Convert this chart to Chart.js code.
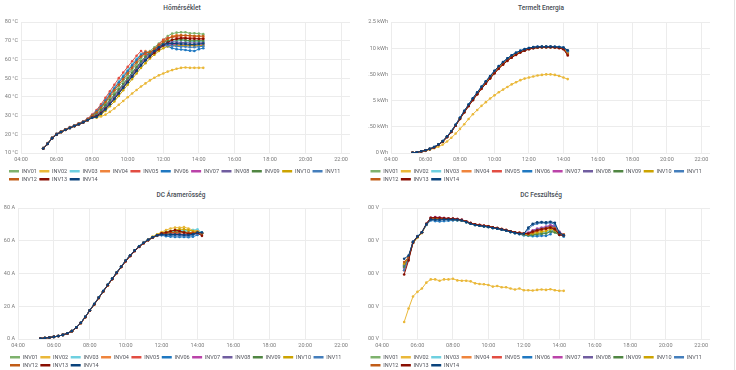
<!DOCTYPE html>
<html>
<head>
<meta charset="utf-8">
<title>Inverterek</title>
<script src="https://cdn.jsdelivr.net/npm/chart.js@4.4.1/dist/chart.umd.min.js"></script>
<style>
  html, body { margin: 0; padding: 0; background: #fff; }
  body { position: relative; width: 736px; height: 370px; overflow: hidden; font-family: Roboto, "Helvetica Neue", Arial, sans-serif; }
  .panel-title { position: absolute; height: 10px; line-height: 10px; text-align: center; font-size: 6.5px; font-weight: 500; color: #464c54; }
  canvas { position: absolute; }
  .edge { position: absolute; left: 734px; top: 0; width: 1px; height: 370px; background: #e2e2e2; }
</style>
</head>
<body>
<div class="panel-title" style="left:0;top:3px;width:364px">Hőmérséklet</div>
<div class="panel-title" style="left:368px;top:3px;width:346px">Termelt Energia</div>
<div class="panel-title" style="left:0;top:190px;width:362px">DC Áramerősség</div>
<div class="panel-title" style="left:368px;top:190px;width:346px">DC Feszültség</div>
<canvas id="temp" width="366" height="192" style="left:0;top:0"></canvas>
<canvas id="energy" width="346" height="192" style="left:368px;top:0"></canvas>
<canvas id="current" width="362" height="192" style="left:0;top:186px"></canvas>
<canvas id="voltage" width="346" height="192" style="left:368px;top:186px"></canvas>
<div class="edge"></div>
<script>
// sample times (every 15 minutes)
const times = ['05:15','05:30','05:45','06:00','06:15','06:30','06:45','07:00','07:15','07:30','07:45',
  '08:00','08:15','08:30','08:45','09:00','09:15','09:30','09:45','10:00','10:15','10:30','10:45',
  '11:00','11:15','11:30','11:45','12:00','12:15','12:30','12:45','13:00','13:15','13:30','13:45','14:00','14:15'];
const hourTicks = ['04:00','06:00','08:00','10:00','12:00','14:00','16:00','18:00','20:00','22:00'];

const names = ['INV01','INV02','INV03','INV04','INV05','INV06','INV07','INV08','INV09','INV10','INV11','INV12','INV13','INV14'];
const colors = ['#7EB26D','#EAB839','#6ED0E0','#EF843C','#E24D42','#1F78C1','#BA43A9','#705DA0','#508642','#CCA300','#447EBC','#C15C17','#890F02','#0A437C'];

// Hőmérséklet (°C)
const tempTickValues = [10, 20, 30, 40, 50, 60, 70, 80];
const tempTickLabels = ['10 °C','20 °C','30 °C','40 °C','50 °C','60 °C','70 °C','80 °C'];
const temp01 = [12.5,15,18,20,21.3,22.5,23.5,24.5,25.5,26.5,27.8,29.8,31.5,33.8,36.5,39.5,42.5,45.5,48.5,51.5,54.5,57.5,60.5,63,64.5,66.5,68.5,70.5,72.5,73.8,74.3,74.5,74.5,74,74,73.8,73.5];
const temp02 = [12.5,15,18,20,21.3,22.5,23.5,24.5,25.3,26.3,27.5,29,29,29.5,30.5,32,33.8,35.8,37.8,39.8,41.8,43.7,45.5,47.2,48.8,50.2,51.5,52.5,53.5,54.3,55,55.5,55.7,55.5,55.5,55.5,55.5];
const temp03 = [12.8,15.2,18.2,20.2,21.4,22.6,23.7,24.7,25.8,26.8,28.2,30.3,32.5,35.3,38.5,42,45.3,48.5,51.5,54.5,57.5,60.5,63,63.5,62,63.5,65.5,67.5,69,69.5,70,70,70,69.5,69.5,69.5,69.5];
const temp04 = [12.6,15.1,18.1,20.1,21.4,22.6,23.6,24.6,25.7,26.7,28,30,32,34.8,37.8,41,44.3,47.5,50.5,53.5,56.5,59.5,62,64.5,63.5,64.5,66.5,69,71,72.5,73,73,72.8,72.5,72.5,72.3,72];
const temp05 = [12.7,15.3,18.3,20.3,21.5,22.7,23.8,24.8,25.9,27,28.4,30.5,33,36,39.5,43,46.5,50,53,56,59,62,64.5,62.5,63,65.5,68,70.5,71.5,72,72,72,71.5,71.5,71.5,71,71];
const temp06 = [12.6,15.2,18.2,20.2,21.4,22.6,23.7,24.7,25.8,26.8,28.1,30.2,32.3,35,38,41.3,44.5,47.7,50.8,53.8,56.8,59.8,62.5,63.8,63,64,65.5,67.5,67,66,65.5,65.3,65,64.7,64.5,65.5,66];
const temp07 = [12.4,14.9,17.9,19.9,21.2,22.4,23.4,24.4,25.4,26.4,27.6,29.2,30.3,32.2,34.6,37.3,40,43,46,49,52,55,58,60.5,62.5,64.5,66.3,67.5,68,68,68,67.8,67.8,67.5,67.5,67.8,68];
const temp08 = [12.5,15,18,20,21.3,22.5,23.5,24.5,25.5,26.5,27.7,29.3,30.5,32.5,35,37.8,40.6,43.5,46.5,49.5,52.5,55.5,58.5,61,63,65,67,68.5,69,69.3,69.3,69,69,68.8,68.8,68.8,69];
const temp09 = [12.5,15,18,20,21.3,22.5,23.5,24.5,25.5,26.5,27.7,29.5,31,33,35.5,38.3,41.2,44,47,50,53,56,59,61.5,63.5,65.5,67.5,69,70,70.5,70.5,70.5,70.3,70,70,70,70];
const temp10 = [12.3,14.8,17.8,19.8,21.1,22.3,23.3,24.3,25.3,26.3,27.5,28.8,29,30.5,32.5,35,37.5,40.5,43.5,46.5,49.5,52.5,55.5,58,60.5,62.5,64.5,66,67,67.3,67.5,67.5,67.3,67.3,67.3,67.3,67.5];
const temp11 = [12.4,14.9,17.9,19.9,21.2,22.4,23.4,24.4,25.4,26.4,27.6,29,30,31.8,34.2,36.8,39.5,42.5,45.5,48.5,51.5,54.5,57.5,60,62,64,66,67.5,67.5,67.3,67,66.8,66.8,66.5,66.5,66.8,67];
const temp12 = [12.6,15.1,18.1,20.1,21.4,22.6,23.6,24.6,25.7,26.7,28,30,31.8,34.3,37.2,40.3,43.5,46.5,49.5,52.5,55.5,58.5,61.5,63.5,64,65.5,67.5,69.5,71,72,72.5,72.8,72.8,72.8,72.5,72.5,72.5];
const temp13 = [12.3,14.8,17.8,19.8,21.1,22.3,23.3,24.3,25.3,26.3,27.5,29,29.8,31.5,33.8,36.3,39,42,45,48,51,54,57,59.5,61.5,63.5,65.5,67.5,69,70.5,71,71.3,71.3,71,71,71,71];
const temp14 = [12.4,14.9,17.9,19.9,21.2,22.4,23.4,24.4,25.4,26.4,27.6,28.8,29.3,31,33.3,36,38.8,41.8,44.8,47.8,50.8,53.8,56.8,59.5,62,64.5,66.5,68,68.5,68.5,68.5,68.3,68.3,68,68,68.3,68.5];

// Termelt Energia (kWh)
const energyTickValues = [0, 2.5, 5, 7.5, 10, 12.5];
const energyTickLabels = ['0 Wh','2.50 kWh','5 kWh','7.50 kWh','10 kWh','12.5 kWh'];
const energy01 = [0.02,0.07,0.15,0.25,0.38,0.55,0.8,1.1,1.55,2.05,2.65,3.3,3.95,4.55,5.12,5.68,6.22,6.72,7.22,7.72,8.17,8.57,8.92,9.22,9.47,9.68,9.84,9.96,10.04,10.1,10.12,10.12,10.12,10.1,10.06,9.98,9.6];
const energy02 = [0.02,0.06,0.14,0.22,0.32,0.45,0.6,0.8,1.1,1.45,1.85,2.3,2.75,3.25,3.7,4.1,4.5,4.85,5.2,5.5,5.8,6.05,6.3,6.55,6.75,6.95,7.1,7.2,7.3,7.4,7.45,7.5,7.5,7.45,7.35,7.2,7.05];
const energy03 = [0.02,0.07,0.15,0.25,0.38,0.56,0.81,1.12,1.57,2.07,2.67,3.32,3.97,4.57,5.17,5.72,6.27,6.77,7.27,7.77,8.22,8.62,8.97,9.27,9.52,9.72,9.87,9.98,10.06,10.11,10.13,10.13,10.13,10.11,10.08,10.02,9.65];
const energy04 = [0.02,0.07,0.15,0.25,0.37,0.54,0.79,1.09,1.53,2.03,2.63,3.27,3.92,4.52,5.1,5.65,6.2,6.7,7.2,7.7,8.15,8.55,8.9,9.2,9.45,9.66,9.82,9.95,10.03,10.08,10.1,10.11,10.11,10.09,10.05,9.97,9.55];
const energy05 = [0.02,0.07,0.15,0.25,0.38,0.55,0.8,1.1,1.55,2.05,2.65,3.3,3.93,4.52,5.1,5.65,6.18,6.68,7.18,7.67,8.12,8.52,8.87,9.17,9.43,9.64,9.8,9.93,10.02,10.08,10.1,10.1,10.1,10.07,10.02,9.92,9.4];
const energy06 = [0.02,0.07,0.16,0.26,0.39,0.57,0.82,1.13,1.58,2.08,2.7,3.36,4.01,4.62,5.22,5.78,6.32,6.83,7.33,7.83,8.28,8.68,9.02,9.32,9.56,9.75,9.9,10.02,10.09,10.13,10.15,10.15,10.15,10.13,10.11,10.06,9.75];
const energy07 = [0.02,0.07,0.15,0.25,0.38,0.55,0.8,1.1,1.55,2.05,2.65,3.3,3.95,4.55,5.14,5.7,6.24,6.74,7.24,7.74,8.19,8.59,8.94,9.24,9.49,9.69,9.85,9.97,10.05,10.1,10.12,10.12,10.12,10.1,10.07,10,9.6];
const energy08 = [0.02,0.07,0.15,0.25,0.38,0.55,0.8,1.1,1.55,2.05,2.65,3.3,3.95,4.55,5.15,5.7,6.25,6.75,7.25,7.75,8.2,8.6,8.95,9.25,9.5,9.7,9.85,9.97,10.05,10.1,10.12,10.12,10.12,10.1,10.08,10.02,9.7];
const energy09 = [0.02,0.07,0.15,0.25,0.37,0.54,0.78,1.08,1.52,2.02,2.62,3.26,3.9,4.5,5.08,5.63,6.17,6.67,7.16,7.65,8.1,8.5,8.85,9.15,9.41,9.62,9.79,9.92,10.01,10.07,10.1,10.1,10.1,10.08,10.04,9.96,9.5];
const energy10 = [0.02,0.07,0.15,0.25,0.38,0.55,0.8,1.1,1.54,2.04,2.64,3.28,3.93,4.53,5.12,5.67,6.21,6.71,7.21,7.71,8.16,8.56,8.91,9.21,9.46,9.67,9.83,9.95,10.04,10.09,10.11,10.11,10.11,10.09,10.05,9.98,9.55];
const energy11 = [0.02,0.07,0.16,0.26,0.39,0.56,0.82,1.12,1.58,2.08,2.69,3.35,4,4.6,5.2,5.76,6.3,6.81,7.31,7.81,8.26,8.66,9,9.3,9.55,9.74,9.89,10,10.08,10.12,10.14,10.14,10.14,10.12,10.1,10.04,9.7];
const energy12 = [0.02,0.07,0.15,0.25,0.37,0.54,0.79,1.09,1.54,2.04,2.64,3.28,3.92,4.51,5.09,5.64,6.18,6.68,7.17,7.66,8.11,8.51,8.86,9.16,9.42,9.63,9.8,9.93,10.02,10.08,10.1,10.1,10.1,10.08,10.03,9.94,9.45];
const energy13 = [0.02,0.07,0.15,0.25,0.37,0.53,0.78,1.07,1.5,2,2.6,3.24,3.87,4.46,5.04,5.58,6.12,6.61,7.1,7.58,8.03,8.43,8.79,9.1,9.36,9.58,9.76,9.9,10,10.06,10.09,10.1,10.1,10.07,10.01,9.9,9.3];
const energy14 = [0.02,0.07,0.16,0.26,0.39,0.57,0.82,1.13,1.59,2.09,2.7,3.36,4.02,4.63,5.23,5.79,6.33,6.84,7.34,7.84,8.29,8.69,9.03,9.33,9.57,9.76,9.91,10.02,10.1,10.14,10.15,10.15,10.15,10.14,10.12,10.07,9.8];

// DC Áramerősség (A)
const currentTickValues = [0, 20, 40, 60, 80];
const currentTickLabels = ['0 A','20 A','40 A','60 A','80 A'];
const current01 = [0.3,0.6,0.9,1.3,1.8,2.5,3.4,4.8,7,9.8,13.5,17.5,21.3,25.2,29.2,33,36.8,40.5,44.2,47.8,51,54,56.5,58.7,60.5,62,63.3,64.5,65,65.5,65.5,66,65.5,65,65.3,65.5,64.5];
const current02 = [0.3,0.6,0.9,1.3,1.8,2.5,3.4,4.7,6.9,9.7,13.3,17.3,21.1,25,29,32.8,36.6,40.3,44,47.6,50.8,53.8,56.5,58.8,60.8,62.5,64,65.3,66.5,67.5,68,68,68.3,67.5,66.5,66,65];
const current03 = [0.3,0.6,0.9,1.3,1.8,2.5,3.4,4.8,7,9.8,13.5,17.5,21.4,25.3,29.3,33.1,36.9,40.6,44.3,47.9,51.1,54.1,56.7,58.9,60.7,62.2,63.5,64.6,65.5,66,66,66,66.5,66,66.5,67,65];
const current04 = [0.3,0.6,0.9,1.3,1.8,2.5,3.4,4.8,7,9.8,13.4,17.4,21.2,25.1,29.1,32.9,36.7,40.4,44.1,47.7,50.9,53.9,56.4,58.6,60.4,61.9,63.2,64.2,64.5,64.8,65,65.5,65,64.5,64.8,65.5,64.5];
const current05 = [0.3,0.6,0.9,1.3,1.8,2.5,3.4,4.8,7,9.8,13.4,17.4,21.2,25.1,29.1,32.9,36.7,40.4,44.1,47.6,50.8,53.8,56.3,58.5,60.3,61.8,63.1,64,64.3,64.5,64.5,64.3,64,64,64.5,65.5,64.5];
const current06 = [0.3,0.6,0.9,1.3,1.8,2.5,3.4,4.8,7.1,9.9,13.6,17.6,21.4,25.3,29.3,33.1,36.9,40.6,44.3,47.9,51.1,54.1,56.6,58.8,60.6,62,63,63.3,62.8,62.5,62.3,62.3,62.3,62.2,62.5,63.5,64.5];
const current07 = [0.3,0.6,0.9,1.3,1.8,2.5,3.4,4.8,7,9.8,13.5,17.5,21.3,25.2,29.2,33,36.8,40.5,44.2,47.8,51,54,56.5,58.7,60.5,62,63.2,63.8,64,64,63.8,63.5,63.3,63.5,64,64.5,64.3];
const current08 = [0.3,0.6,0.9,1.3,1.8,2.5,3.4,4.8,7,9.8,13.5,17.5,21.3,25.2,29.2,33,36.8,40.5,44.2,47.8,51,54,56.5,58.7,60.5,62,63.2,63.9,64,64.2,64,63.8,63.8,63.8,64,64.5,64.3];
const current09 = [0.3,0.6,0.9,1.3,1.8,2.5,3.4,4.8,7,9.8,13.4,17.4,21.2,25.1,29.1,32.9,36.7,40.4,44.1,47.7,50.9,53.9,56.4,58.6,60.4,61.9,63.2,64.2,64.5,65,65.3,65.3,65.5,65,65,65,64.5];
const current10 = [0.3,0.6,0.9,1.3,1.8,2.5,3.4,4.8,7,9.8,13.5,17.5,21.3,25.2,29.2,33,36.8,40.5,44.2,47.8,51,54,56.5,58.7,60.6,62.2,63.6,64.7,65.5,66,66.5,67,67,66.5,66,65.5,64.5];
const current11 = [0.3,0.6,0.9,1.3,1.8,2.5,3.4,4.8,7.1,9.9,13.6,17.6,21.4,25.3,29.3,33.1,36.9,40.6,44.3,47.9,51.1,54.1,56.6,58.8,60.6,62.1,63.2,63.6,63.5,63.3,63,63,63,62.8,63.5,64.5,65];
const current12 = [0.3,0.6,0.9,1.3,1.8,2.5,3.4,4.8,7,9.8,13.4,17.4,21.2,25.1,29.1,32.9,36.7,40.4,44.1,47.7,50.9,53.9,56.4,58.6,60.4,61.9,63.2,64.3,64.8,65,65,65.5,65,65,65,65,64.5];
const current13 = [0.3,0.6,0.9,1.3,1.8,2.5,3.4,4.7,6.9,9.7,13.3,17.3,21.1,25,29,32.8,36.5,40.2,43.9,47.4,50.6,53.6,56.2,58.5,60.4,62,63.4,64.5,65,65.8,66.5,66,65,64.3,64.3,64.8,63];
const current14 = [0.3,0.6,0.9,1.3,1.8,2.5,3.5,4.9,7.1,9.9,13.6,17.6,21.4,25.3,29.3,33.1,36.9,40.6,44.3,47.9,51.1,54.1,56.6,58.8,60.6,62.1,63.3,63.8,63.5,63.8,63.8,63.8,63.5,63.5,64,65,65];

// DC Feszültség (V)
const voltageTickValues = [300, 400, 500, 600, 700];
const voltageTickLabels = ['300 V','400 V','500 V','600 V','700 V'];
const voltage01 = [520,547,594,612,626,651,666,665,666,667,666,665,663,661,657,652,648,646,644,642,639,637,634,631,627,624,622,620,618,620,622,624,625,630,628,620,617];
const voltage02 = [352,393,430,444,454,472,482,482,478,482,482,484,479,478,478,476,470,468,467,465,460,462,458,458,454,451,454,449,449,448,450,451,450,452,449,447,447];
const voltage03 = [515,548,596,613,626,652,668,668,667,666,665,664,663,662,658,654,650,647,645,643,640,638,635,631,627,624,621,616,615,613,616,620,625,632,635,620,612];
const voltage04 = [528,550,596,612,625,650,667,668,668,667,667,666,665,663,659,654,650,648,646,644,641,639,636,633,629,626,624,622,620,624,628,632,635,640,636,622,620];
const voltage05 = [510,545,595,613,625,651,669,669,669,668,668,667,666,663,659,654,650,648,646,644,641,639,636,633,629,626,623,621,622,628,632,637,640,645,640,625,617];
const voltage06 = [525,550,597,614,626,648,662,660,659,660,661,662,662,661,657,652,648,646,644,642,639,637,634,631,627,623,620,617,616,615,614,615,615,620,640,622,613];
const voltage07 = [518,548,595,612,625,651,670,672,671,669,668,667,666,664,659,654,650,648,646,644,641,638,635,632,628,625,623,622,625,632,637,640,643,648,645,628,618];
const voltage08 = [522,547,595,612,625,650,668,669,669,668,667,666,665,663,658,653,649,647,645,643,640,638,635,632,628,625,623,622,623,630,635,638,640,645,642,625,618];
const voltage09 = [520,546,594,611,624,650,666,666,666,666,665,665,663,661,657,652,648,646,644,642,639,637,634,631,627,624,621,619,617,618,620,621,622,628,625,618,616];
const voltage10 = [530,549,593,610,624,649,665,665,665,666,666,666,664,662,658,653,649,647,645,643,640,638,635,632,628,625,622,620,620,622,625,628,630,635,632,620,618];
const voltage11 = [510,549,597,613,626,650,664,663,663,664,664,665,664,662,657,652,648,646,644,642,639,637,634,631,627,624,622,621,635,648,652,655,653,655,650,618,615];
const voltage12 = [535,550,596,612,625,651,667,668,668,667,667,666,665,663,659,654,650,648,646,644,641,639,636,633,629,626,624,622,620,625,630,635,638,642,638,623,618];
const voltage13 = [497,540,594,612,626,652,670,671,670,669,668,668,666,664,659,654,650,648,646,644,641,639,636,633,629,626,624,622,622,628,632,635,637,640,635,618,616];
const voltage14 = [545,555,597,613,626,650,665,664,664,665,665,665,664,662,657,652,648,646,644,642,639,637,634,631,627,624,621,621,640,652,656,657,656,658,655,625,617];

const gridColor = '#ececec';
const tickColor = '#7b7b7b';

function toMinutes(s) {
  const [h, m] = s.split(':').map(Number);
  return h * 60 + m;
}

Chart.defaults.font.family = 'Roboto, "Helvetica Neue", Arial, sans-serif';
Chart.defaults.font.size = 5.5;

// nudge the legend sideways without moving the y axis
const legendShift = {
  id: 'legendShift',
  afterLayout(chart, args, opts) {
    if (opts.dx && chart.legend) {
      chart.legend.left += opts.dx;
      chart.legend.right += opts.dx;
    }
  }
};

function makeChart(id, series, yMin, yMax, yTickValues, yTickLabels, axisWidth, padRight, legendDx) {
  return new Chart(document.getElementById(id), {
    type: 'line',
    plugins: [legendShift],
    data: {
      datasets: series.map((vals, i) => ({
        label: names[i],
        data: vals.map((v, k) => ({ x: toMinutes(times[k]), y: v })),
        borderColor: colors[i],
        backgroundColor: colors[i],
        pointBackgroundColor: colors[i],
        borderWidth: 1,
        pointRadius: 1.3,
        pointBorderWidth: 0,
        pointHoverRadius: 0,
        tension: 0,
        order: names.length - 1 - i   // INV14 drawn on top
      }))
    },
    options: {
      responsive: false,
      animation: false,
      events: [],
      layout: { padding: { top: 22, left: 0, right: padRight, bottom: 0 } },
      scales: {
        x: {
          type: 'linear',
          min: 240,
          max: 1350,
          afterBuildTicks: s => { s.ticks = hourTicks.map(h => ({ value: toMinutes(h) })); },
          afterFit: s => { s.height = 13; },
          ticks: { callback: (v, i) => hourTicks[i], color: tickColor, padding: 3, maxRotation: 0, autoSkip: false },
          grid: { color: gridColor, drawTicks: false },
          border: { display: false }
        },
        y: {
          min: yMin,
          max: yMax,
          afterBuildTicks: s => { s.ticks = yTickValues.map(v => ({ value: v })); },
          afterFit: s => { s.width = axisWidth; },
          ticks: { callback: (v, i) => yTickLabels[i], color: tickColor, padding: 3 },
          grid: { color: gridColor, drawTicks: false },
          border: { display: false }
        }
      },
      plugins: {
        legendShift: { dx: legendDx },
        title: { display: false },
        tooltip: { enabled: false },
        legend: {
          position: 'bottom',
          align: 'start',
          labels: {
            boxWidth: 10,
            boxHeight: 2.5,
            padding: 2.5,
            color: '#52545c',
            font: { size: 5.5 },
            generateLabels: chart => Chart.defaults.plugins.legend.labels.generateLabels(chart)
              .map(l => Object.assign(l, { lineWidth: 0 })),
            sort: (a, b) => a.datasetIndex - b.datasetIndex
          }
        }
      }
    }
  });
}

makeChart('temp',
  [temp01, temp02, temp03, temp04, temp05, temp06, temp07, temp08, temp09, temp10, temp11, temp12, temp13, temp14],
  10, 80, tempTickValues, tempTickLabels, 21, 16, 6.5);
makeChart('energy',
  [energy01, energy02, energy03, energy04, energy05, energy06, energy07, energy08, energy09, energy10, energy11, energy12, energy13, energy14],
  0, 12.5, energyTickValues, energyTickLabels, 23, 4, 0);
makeChart('current',
  [current01, current02, current03, current04, current05, current06, current07, current08, current09, current10, current11, current12, current13, current14],
  0, 80, currentTickValues, currentTickLabels, 18, 12, 7.5);
makeChart('voltage',
  [voltage01, voltage02, voltage03, voltage04, voltage05, voltage06, voltage07, voltage08, voltage09, voltage10, voltage11, voltage12, voltage13, voltage14],
  300, 700, voltageTickValues, voltageTickLabels, 14, 4, 0);
</script>
</body>
</html>
